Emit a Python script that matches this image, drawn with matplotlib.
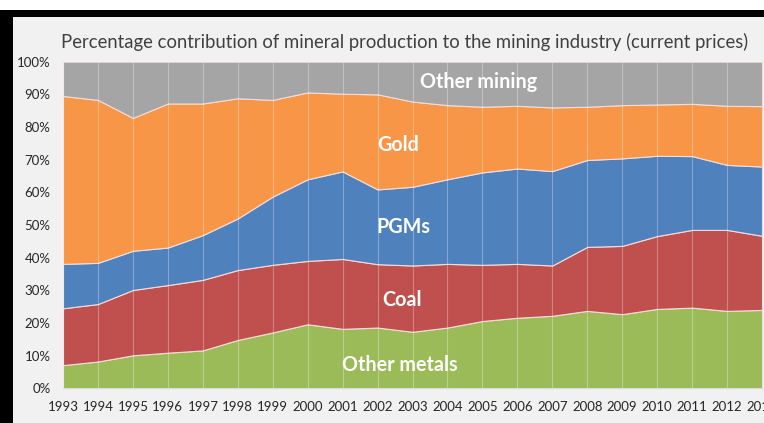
import numpy as np
import matplotlib.pyplot as plt
from matplotlib.patches import Rectangle

years = list(range(1993, 2014))
other_metals = [7.1, 8.2, 10.1, 10.9, 11.6, 14.8, 17.1, 19.6, 18.2, 18.6, 17.3,
                18.6, 20.6, 21.6, 22.2, 23.7, 22.7, 24.3, 24.7, 23.7, 24.0]
coal = [17.4, 17.6, 20.0, 20.7, 21.6, 21.4, 20.7, 19.4, 21.4, 19.4, 20.3,
        19.5, 17.2, 16.5, 15.4, 19.6, 20.9, 22.3, 23.8, 24.8, 22.7]
pgms = [13.6, 12.6, 12.0, 11.5, 13.7, 15.8, 20.9, 25.0, 26.8, 22.9, 24.1,
        25.9, 28.3, 29.2, 28.9, 26.6, 26.8, 24.6, 22.6, 19.9, 21.2]
gold = [51.4, 49.9, 40.7, 44.1, 40.3, 36.8, 29.6, 26.6, 23.8, 29.1, 26.1,
        22.7, 20.1, 19.2, 19.5, 16.3, 16.3, 15.7, 16.0, 18.1, 18.5]
other_mining = [10.5, 11.7, 17.2, 12.8, 12.8, 11.2, 11.7, 9.4, 9.8, 10.0, 12.2,
                13.3, 13.8, 13.5, 14.0, 13.8, 13.3, 13.1, 12.9, 13.5, 13.6]

series_names = ['Other metals', 'Coal', 'PGMs', 'Gold', 'Other mining']
colors = ['#9bbb59', '#c0504d', '#4f81bd', '#f79646', '#a5a5a5']
yticks = list(range(0, 101, 10))

plt.rcParams['font.family'] = ['Lato', 'DejaVu Sans']

fig = plt.figure(figsize=(7.64, 4.23), dpi=100, facecolor='#f1f1f1')
# screenshot frame: white strip + black bars
fig.add_artist(Rectangle((0, 1 - 10 / 423), 1, 10 / 423, transform=fig.transFigure,
                         facecolor='white', edgecolor='none', zorder=0))
fig.add_artist(Rectangle((0, 1 - 17 / 423), 1, 7 / 423, transform=fig.transFigure,
                         facecolor='black', edgecolor='none', zorder=0))
fig.add_artist(Rectangle((0, 0), 13 / 764, 1 - 10 / 423, transform=fig.transFigure,
                         facecolor='black', edgecolor='none', zorder=0))

ax = fig.add_axes([63 / 764, 1 - 388.3 / 423, (762 - 63) / 764, (388.3 - 61.7) / 423])
ax.set_facecolor('#f1f1f1')

ax.stackplot(years, other_metals, coal, pgms, gold, other_mining,
             colors=colors, edgecolor='#f2dcdb', linewidth=0.8, zorder=2)
ax.vlines(years, 0, 100, color='white', alpha=0.3, linewidth=0.8, zorder=3)

ax.set_xlim(years[0], years[-1])
ax.set_ylim(0, 100)
ax.set_yticks(yticks)
ax.set_yticklabels([f'{v}%' for v in yticks])
ax.set_xticks(years)
ax.set_xticklabels([str(y) for y in years])
ax.tick_params(length=0, labelsize=9.5, colors='#262626')
ax.tick_params(axis='x', pad=9)
ax.tick_params(axis='y', pad=9)
for side in ['top', 'right', 'left']:
    ax.spines[side].set_visible(False)
ax.spines['bottom'].set_color('#d9d9d9')

fig.text(405 / 764, 1 - 42 / 423,
         'Percentage contribution of mineral production to the mining industry (current prices)',
         ha='center', va='center', fontsize=13.35, color='#404040')

labels = [('Other metals', 2002.65, 7.0), ('Coal', 2002.7, 27.0), ('PGMs', 2002.75, 49.4),
          ('Gold', 2002.6, 74.5), ('Other mining', 2004.9, 93.8)]
for text, lx, ly in labels:
    ax.text(lx, ly, text, ha='center', va='center', color='white',
            fontsize=14.2, fontweight='bold', zorder=4)

plt.savefig('out.png', dpi=100, facecolor=fig.get_facecolor())
